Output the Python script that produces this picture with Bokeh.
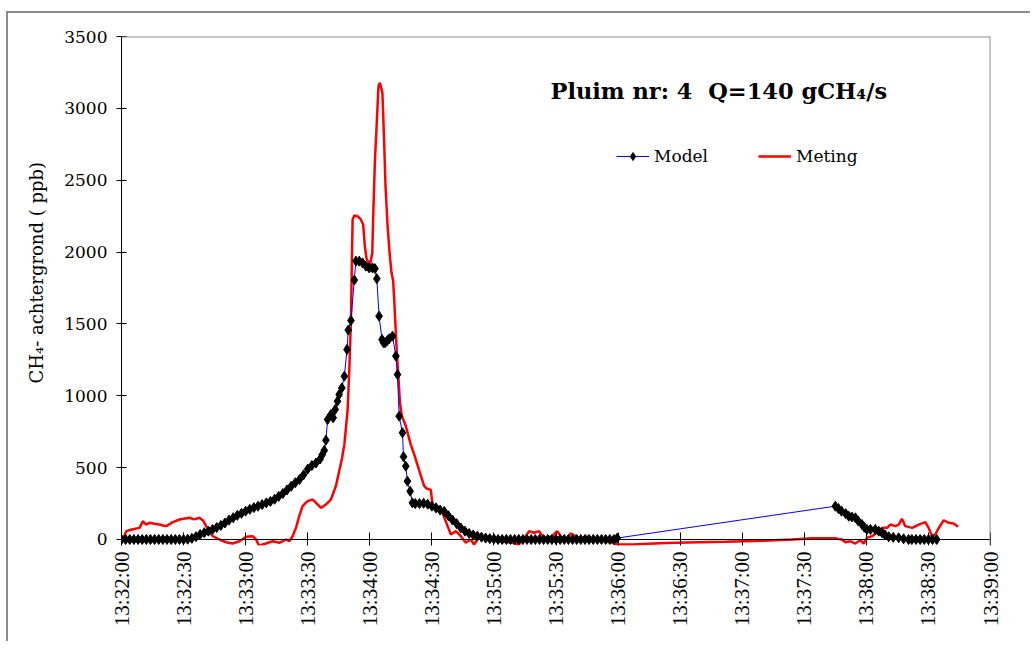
import math
import pandas as pd
from bokeh.plotting import figure
from bokeh.models import (Range1d, FixedTicker, DatetimeTickFormatter, Span, Label, Title,
                          Legend, LegendItem, ColumnDataSource)
from bokeh.embed import file_html
from bokeh.resources import INLINE

# ---------------- data ----------------
BASE_TIME = "2000-01-01 13:32:00"
x_tick_labels = ["13:32:00", "13:32:30", "13:33:00", "13:33:30", "13:34:00",
                 "13:34:30", "13:35:00", "13:35:30", "13:36:00", "13:36:30",
                 "13:37:00", "13:37:30", "13:38:00", "13:38:30", "13:39:00"]
y_ticks = [0, 500, 1000, 1500, 2000, 2500, 3000, 3500]

title_text = "Pluim nr: 4\u00a0\u00a0Q=140 gCH\u2084/s"
y_label_text = "CH\u2084- achtergrond ( ppb)"
series_names = ["Model", "Meting"]

# seconds after 13:32:00
model_sec = [0, 2, 4, 6, 8, 10, 12, 14, 16, 18, 20, 22, 24, 26, 28, 30,
             32, 34, 36, 38, 40, 42, 44, 46, 48, 50, 52, 54, 56, 58, 60,
             62, 64, 66, 68, 70, 72, 74, 76, 78, 80, 82, 84, 86, 88, 90,
             92, 94, 96, 97, 98, 98.8, 99.6, 101.2, 102.3, 103.3, 104.4,
             105.2, 106.5, 107.7, 109, 109.6, 110.9, 112.5, 113.3, 114.9,
             116.5, 118.1, 119.7, 121.3, 122.5, 123.4, 124.5, 125.9, 126.6,
             127.4, 128.5, 129.4, 131, 132.6, 133.4, 134.2, 135.8, 136.3,
             137.4, 138.2, 139.5, 140.6, 142, 144, 146, 148, 150, 152, 154,
             156, 158, 160, 162, 164, 166, 168, 170, 172, 174, 176, 178, 180,
             182, 184, 186, 188, 190, 192, 194, 196, 198, 200, 202, 204, 206,
             208, 210, 212, 214, 216, 218, 220, 222, 224, 226, 228, 230, 232,
             234, 236, 238, 239.6,
             345, 346.5, 348, 350, 351.5, 353, 354.7, 356, 357.9, 359, 360.3,
             362, 364.3, 366, 367.6, 369, 370.8, 373, 375.6, 378, 380.4, 382,
             384, 386, 388, 390, 392, 394]
model_ppb = [0, 0, 0, 0, 0, 0, 0, 0, 0, 0, 0, 0, 0, 0, 0, 0,
             2, 8, 20, 35, 47, 58, 70, 83, 98, 115, 135, 152, 168, 182, 197,
             210, 222, 232, 243, 255, 265, 280, 300, 320, 345, 370, 395, 417, 450, 490,
             515, 532, 560, 590, 620, 691, 835, 870, 847, 905, 962,
             1009, 1055, 1136, 1322, 1457, 1524, 1805, 1937, 1937,
             1925, 1902, 1890, 1890, 1885, 1815, 1554, 1392, 1370,
             1369, 1385, 1397, 1415, 1276, 1148, 858, 743, 576,
             510, 406, 336, 255, 250, 250, 252, 246, 232, 220, 205,
             195, 165, 135, 110, 80, 58, 42, 32, 24, 16, 10, 6, 4,
             0, 0, 0, 0, 0, 0, 0, 0, 0, 0, 0, 0, 0,
             0, 0, 0, 0, 0, 0, 0, 0, 0, 0, 0, 0, 0,
             0, 0, 0, 10,
             232, 215, 197, 180, 162, 157, 151, 130, 104, 85, 70,
             70, 70, 58, 47, 32, 19, 15, 12, 5, 0, 0,
             0, 0, 0, 0, 0, 0]

meting_sec = [0.6, 2.3, 5, 8.7, 10.3, 11.9, 13.5, 16, 18.3, 20, 21.6, 23, 24.8,
              28, 30, 32.8, 35, 37.7, 39.5, 40.9, 42.5, 44.1, 47.3, 50.5, 53.7,
              57, 60.2, 63.4, 65, 66.6, 68, 69.8, 73, 76.3, 79.5, 81.1, 82.7,
              84.3, 85.9, 87.5, 89.9, 92.4, 94, 96.4, 98.8, 101.2, 103.6, 105.2,
              106.5, 107.7, 108.5, 109.3, 110.1, 110.9, 111.4, 111.7, 112.5, 114,
              115.5, 116.8, 117.6, 118.5, 120.1, 121.2, 121.7, 122.5, 123.3,
              124.2, 124.9, 126.1, 127.0, 127.6, 128.6, 129.7, 130.5, 131.3,
              131.8, 133, 133.9, 134.6, 135.5, 137.4, 139.8, 141.5, 143.9,
              146.3, 147.5, 149.5, 150.3, 152.7, 155.1, 157.6, 159.2, 161.6, 164,
              166.4, 168.8, 170.4, 172, 174.5, 177.7, 180.9, 184.1, 188.9, 192.1,
              195.3, 197, 199.4, 201.8, 203.4, 205, 208.2, 210.6, 212.3, 214.7,
              217.1, 219.5, 221.9, 224.3, 227.5, 230.8, 234, 237.2, 239.6, 246.8,
              262.9, 279, 291.9, 310, 324.1, 333.7, 345, 346, 348.2, 349.8, 352.2,
              354.6, 357, 358.7, 360.3, 362.7, 365.2, 367.6, 370, 371.6, 374,
              375.6, 377.2, 378.8, 382.1, 385.3, 388.5, 390.1, 391.7, 393.3, 395,
              397.4, 399.8, 402.2, 404.3]
meting_ppb = [0, 58, 70, 81, 127, 104, 116, 110, 104, 98, 93, 105, 121,
              139, 145, 151, 140, 151, 130, 93, 55, 23, 0, -19, -28,
              -12, 19, 23, 0, -46, -35, -28, -12, -23, 0, -12, 23,
              81, 162, 232, 267, 278, 255, 220, 244, 278, 371, 475,
              560, 660, 780, 905, 1183, 1531, 1995, 2227, 2255, 2250,
              2230, 2192, 2041, 1949, 1914, 1995, 2273, 2644, 2876,
              3155, 3178, 3108, 2737, 2459, 2180, 1972, 1856, 1798,
              1670, 1320, 1113, 950, 860, 790, 660, 590, 480,
              371, 355, 345, 244, 232, 186, 93, 35, 58, 23,
              -23, 0, -35, 0, 23, 12, 0, -12, -23, -35,
              23, 58, 47, 58, 23, 12, 23, 58, 23, 0,
              42, 23, 0, 23, 5, 12, -12, -23, -35, -35,
              -25, -19, -16, -8, 0, 9, 9, 5, 0, -19, -12,
              -28, -5, -28, 12, 23, 51, 81, 81, 104, 93,
              104, 144, 93, 81, 104, 121, 81, 23, 35, 81,
              134, 116, 111, 88]

# ---------------- conversion ----------------
base_ms = pd.Timestamp(BASE_TIME).value / 1e6
tick_ms = [pd.Timestamp("2000-01-01 " + t).value / 1e6 for t in x_tick_labels]
model_t = [base_ms + s * 1000.0 for s in model_sec]
meting_t = [base_ms + s * 1000.0 for s in meting_sec]

model_src = ColumnDataSource(dict(t=model_t, v=model_ppb))
meting_src = ColumnDataSource(dict(t=meting_t, v=meting_ppb))

# ---------------- figure ----------------
Y_TOP = 3500
Y_BOTTOM = -41.75  # small room below zero so the measured line can dip under the axis

p = figure(width=1024, height=630, output_backend="svg", toolbar_location=None,
           x_axis_type="datetime",
           x_range=Range1d(tick_ms[0], tick_ms[-1]),
           y_range=Range1d(Y_BOTTOM, Y_TOP),
           min_border_left=112, min_border_right=42, min_border_top=23, min_border_bottom=98)
p.styles = {"border-top": "2px solid #8c8c8c", "border-left": "2px solid #8c8c8c",
            "margin-top": "11px", "margin-left": "6px"}
p.background_fill_color = "white"
p.border_fill_color = "white"
p.outline_line_color = None
p.xgrid.visible = False
p.ygrid.visible = False

# x axis
xa = p.xaxis[0]
xa.ticker = FixedTicker(ticks=tick_ms)
xa.formatter = DatetimeTickFormatter(seconds="%H:%M:%S", minsec="%H:%M:%S",
                                     minutes="%H:%M:%S", hourmin="%H:%M:%S",
                                     hours="%H:%M:%S", milliseconds="%H:%M:%S")
xa.major_label_orientation = math.pi / 2
xa.axis_line_color = None
xa.major_tick_in = 13
xa.major_tick_out = 0
xa.major_tick_line_color = "black"
xa.minor_tick_line_color = None
xa.major_label_standoff = 6
xa.major_label_text_font = "Liberation Serif"
xa.major_label_text_font_size = "21px"
xa.major_label_text_color = "black"

# y axis
ya = p.yaxis[0]
ya.ticker = FixedTicker(ticks=y_ticks)
ya.axis_line_color = "black"
ya.major_tick_in = 5
ya.major_tick_out = 5
ya.minor_tick_line_color = None
ya.major_label_standoff = 9
ya.major_label_text_font = "DejaVu Serif"
ya.major_label_text_font_size = "17px"
ya.major_label_text_color = "black"

# y axis title (left side panel)
p.add_layout(Title(text=y_label_text, align="left", offset=162, standoff=30,
                   text_font="DejaVu Serif", text_font_size="18px",
                   text_font_style="normal", text_color="black"), "left")

# axis line at zero and grey frame top/right
p.add_layout(Span(location=0, dimension="width", line_color="black", line_width=1))
p.add_layout(Span(location=Y_TOP, dimension="width", line_color="#8c8c8c", line_width=2))
p.add_layout(Span(location=tick_ms[-1], dimension="height", line_color="#8c8c8c", line_width=2))

# series
meting_line = p.line("t", "v", source=meting_src, line_color="#ff0000", line_width=2.5)
model_line = p.line("t", "v", source=model_src, line_color="#0000ff", line_width=1)
model_pts = p.scatter("t", "v", source=model_src, marker="diamond", size=10,
                      fill_color="black", line_color="black")
legend_pt = p.scatter(x=[model_t[0]], y=[model_ppb[0]], marker="diamond", size=8,
                      fill_color="black", line_color="black")

legend = Legend(items=[LegendItem(label=series_names[0], renderers=[model_line, legend_pt]),
                       LegendItem(label=series_names[1], renderers=[meting_line])],
                orientation="horizontal", location=(495, 379),
                glyph_width=33, glyph_height=20, label_standoff=5, spacing=50,
                padding=0, margin=0, border_line_color=None, background_fill_alpha=0,
                label_text_font="DejaVu Serif", label_text_font_size="17px",
                label_text_color="black")
p.add_layout(legend)

# title inside the plot
p.add_layout(Label(x=429, y=455, x_units="screen", y_units="screen", text=title_text,
                   text_font="DejaVu Serif", text_font_size="22.5px", text_font_style="bold",
                   text_align="left", text_baseline="middle", text_color="black"))

open("out.html", "w").write(file_html(p, INLINE))
